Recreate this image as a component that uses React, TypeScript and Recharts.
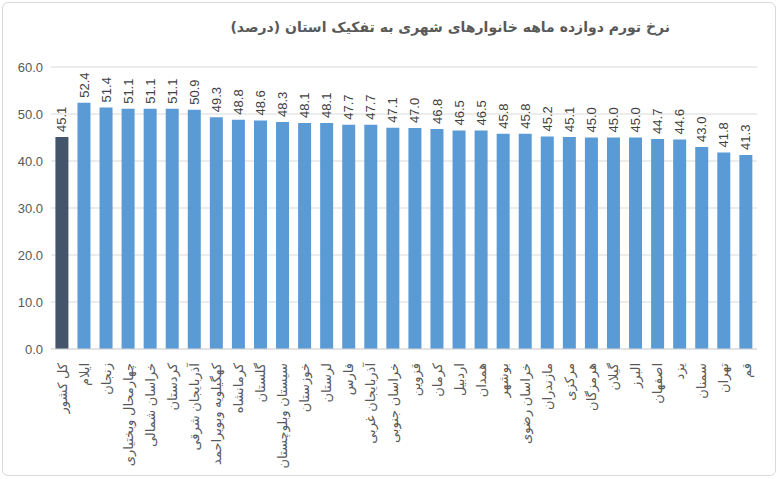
import React from 'react';
import { BarChart, Bar, XAxis, YAxis, CartesianGrid, Cell, LabelList } from 'recharts';

const provinces = [
  'کل کشور', 'ایلام', 'زنجان', 'چهارمحال وبختیاری', 'خراسان شمالی', 'کردستان',
  'آذربایجان شرقی', 'کهگیلویه وبویراحمد', 'کرمانشاه', 'گلستان', 'سیستان وبلوچستان',
  'خوزستان', 'لرستان', 'فارس', 'آذربایجان غربی', 'خراسان جنوبی', 'قزوین', 'کرمان',
  'اردبیل', 'همدان', 'بوشهر', 'خراسان رضوی', 'مازندران', 'مرکزی', 'هرمزگان',
  'گیلان', 'البرز', 'اصفهان', 'یزد', 'سمنان', 'تهران', 'قم',
];

const inflation = [
  45.1, 52.4, 51.4, 51.1, 51.1, 51.1, 50.9, 49.3, 48.8, 48.6, 48.3, 48.1, 48.1, 47.7,
  47.7, 47.1, 47.0, 46.8, 46.5, 46.5, 45.8, 45.8, 45.2, 45.1, 45.0, 45.0, 45.0, 44.7,
  44.6, 43.0, 41.8, 41.3,
];

const yTicks = [0, 10, 20, 30, 40, 50, 60];

const title = 'نرخ تورم دوازده ماهه خانوارهای شهری به تفکیک استان (درصد)';

const FONT = '"Liberation Sans", "DejaVu Sans", sans-serif';

const data = provinces.map((name, i) => ({ name, value: inflation[i] }));

const ProvinceTick = (props: any) => {
  const { x, y, payload } = props;
  return (
    <text
      x={x}
      y={y + 6}
      transform={`rotate(-90, ${x}, ${y + 6})`}
      textAnchor="end"
      dy="0.35em"
      fontSize={13}
      fill="#595959"
      fontFamily={FONT}
    >
      {payload.value}
    </text>
  );
};

const ValueLabel = (props: any) => {
  const { x, y, width, value } = props;
  const cx = x + width / 2;
  const cy = y - 5;
  return (
    <text
      x={cx}
      y={cy}
      transform={`rotate(-90, ${cx}, ${cy})`}
      textAnchor="start"
      dy="0.35em"
      fontSize={13}
      fill="#404040"
      fontFamily={FONT}
    >
      {Number(value).toFixed(1)}
    </text>
  );
};

export default function App() {
  return (
    <div style={{ position: 'absolute', left: 0, top: 0, width: 780, height: 479, background: '#fff' }}>
      <div
        style={{
          position: 'absolute', left: 2, top: 2, width: 774, height: 474,
          border: '1px solid #d9d9d9', borderRadius: 6, boxSizing: 'border-box',
        }}
      />
      <div
        style={{
          position: 'absolute', right: 110, top: 19, direction: 'rtl',
          fontFamily: '"DejaVu Sans", sans-serif', fontWeight: 'bold', fontSize: 14, color: '#595959',
          whiteSpace: 'nowrap',
        }}
      >
        {title}
      </div>
      <BarChart
        width={780}
        height={479}
        data={data}
        margin={{ top: 67, right: 23, left: 0, bottom: 0 }}
        barCategoryGap="20%"
        style={{ position: 'absolute', left: 0, top: 0 }}
      >
        <CartesianGrid vertical={false} stroke="#d9d9d9" />
        <XAxis
          dataKey="name"
          interval={0}
          tick={<ProvinceTick />}
          tickLine={false}
          axisLine={{ stroke: '#d9d9d9' }}
          height={130}
        />
        <YAxis
          width={51}
          domain={[0, 60]}
          ticks={yTicks}
          tickFormatter={(v: number) => v.toFixed(1)}
          tick={{ fontSize: 13, fill: '#595959', fontFamily: FONT }}
          tickLine={false}
          axisLine={false}
        />
        <Bar dataKey="value" isAnimationActive={false}>
          {data.map((d, i) => (
            <Cell key={d.name} fill={i === 0 ? '#44546a' : '#5b9bd5'} />
          ))}
          <LabelList dataKey="value" content={<ValueLabel />} />
        </Bar>
      </BarChart>
    </div>
  );
}
